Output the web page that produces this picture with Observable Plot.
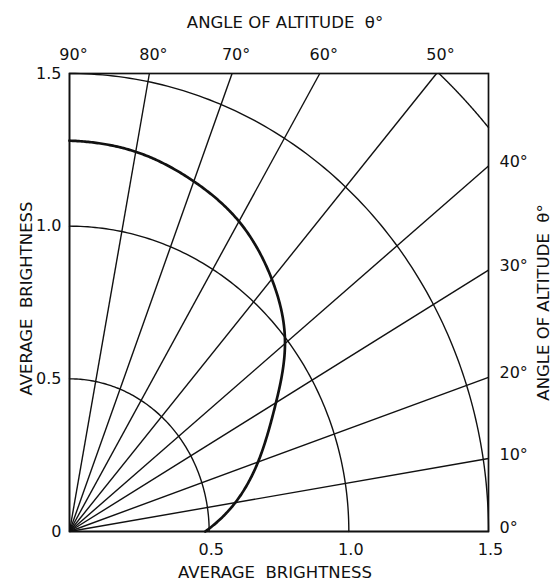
<!DOCTYPE html>
<html>
<head>
<meta charset="utf-8">
<script src="https://cdn.jsdelivr.net/npm/d3@7"></script>
<script src="https://cdn.jsdelivr.net/npm/@observablehq/plot@0.6"></script>
<style>
  html, body { margin: 0; padding: 0; background: #fff; }
  #chart svg { display: block; }
  g[aria-label="titles"] text { letter-spacing: 2.2px; }
</style>
</head>
<body>
<div id="chart"></div>
<script>
// Altitude angles (degrees) for each spoke of the polar grid
const altitudes = [0, 10, 20, 30, 40, 50, 60, 70, 80, 90];

// Where each spoke meets the frame: spokes 50°–90° end on the top edge (x value),
// spokes 0°–40° end on the right edge (y value)
const topAngles = [90, 80, 70, 60, 50];
const topEdgeX = [0, 0.286, 0.582, 0.896, 1.314];
const rightAngles = [40, 30, 20, 10, 0];
const rightEdgeY = [1.197, 0.856, 0.505, 0.239, 0];

// Average brightness at each altitude (radius of the heavy curve)
const brightness = [0.486, 0.601, 0.712, 0.851, 0.987, 1.099, 1.183, 1.23, 1.266, 1.28];

// Concentric brightness rings and tick labels
const rings = [0.5, 1.0, 1.5, 2.0];
const yTicks = [0, 0.5, 1.0, 1.5];
const yTickLabels = ["0", "0.5", "1.0", "1.5"];
const xTicks = [0.5, 1.0, 1.5];
const xTickLabels = ["0.5", "1.0", "1.5"];

const LIMIT = 1.5;

// Spoke end points on the frame
const spokes = altitudes.map(a => {
  const ti = topAngles.indexOf(a);
  if (ti >= 0) return {a, x: topEdgeX[ti], y: LIMIT};
  const ri = rightAngles.indexOf(a);
  return {a, x: LIMIT, y: rightEdgeY[ri]};
});

// Natural cubic spline through (xs, ys), returned as a function
function naturalSpline(xs, ys) {
  const n = xs.length - 1;
  const h = d3.range(n).map(i => xs[i + 1] - xs[i]);
  const alpha = [0];
  for (let i = 1; i < n; i++) {
    alpha.push(3 / h[i] * (ys[i + 1] - ys[i]) - 3 / h[i - 1] * (ys[i] - ys[i - 1]));
  }
  const l = [1], mu = [0], z = [0];
  for (let i = 1; i < n; i++) {
    l[i] = 2 * (xs[i + 1] - xs[i - 1]) - h[i - 1] * mu[i - 1];
    mu[i] = h[i] / l[i];
    z[i] = (alpha[i] - h[i - 1] * z[i - 1]) / l[i];
  }
  const c = new Array(n + 1).fill(0), b = [], d = [];
  for (let j = n - 1; j >= 0; j--) {
    c[j] = z[j] - mu[j] * c[j + 1];
    b[j] = (ys[j + 1] - ys[j]) / h[j] - h[j] * (c[j + 1] + 2 * c[j]) / 3;
    d[j] = (c[j + 1] - c[j]) / (3 * h[j]);
  }
  return t => {
    const j = Math.min(n - 1, Math.max(0, d3.bisectRight(xs, t) - 1));
    const dt = t - xs[j];
    return ys[j] + b[j] * dt + c[j] * dt * dt + d[j] * dt * dt * dt;
  };
}

// Heavy curve: brightness along each spoke direction, smoothed in polar form
const spokeDir = spokes.map(s => Math.atan2(s.y, s.x));
const rOf = naturalSpline(spokeDir, brightness);
const curvePts = d3.range(0, 361).map(k => {
  const phi = spokeDir[0] + (spokeDir[spokeDir.length - 1] - spokeDir[0]) * k / 360;
  const r = rOf(phi);
  return {x: r * Math.cos(phi), y: r * Math.sin(phi)};
});

// Ring arcs, kept inside the square frame
const arcPts = [];
for (const r of rings) {
  let lo = 0, hi = Math.PI / 2;
  if (r > LIMIT) { lo = Math.acos(LIMIT / r); hi = Math.asin(LIMIT / r); }
  const n = 120;
  for (let k = 0; k <= n; k++) {
    const t = lo + (hi - lo) * k / n;
    arcPts.push({r, x: r * Math.cos(t), y: r * Math.sin(t)});
  }
}

const topLabels = topAngles.map((a, i) => ({label: a + "°", x: topEdgeX[i]}));
const rightLabels = rightAngles.map((a, i) => ({label: a + "°", y: rightEdgeY[i]}));

const ink = "#111";
const font = "'DejaVu Sans', sans-serif";

const chart = Plot.plot({
  width: 553,
  height: 586,
  marginLeft: 69,
  marginRight: 65,
  marginTop: 73,
  marginBottom: 55,
  x: {domain: [0, 1.5], axis: null},
  y: {domain: [0, 1.5], axis: null},
  style: {fontFamily: font, fontSize: "16px", color: ink, background: "#fff"},
  marks: [
    Plot.line(arcPts, {x: "x", y: "y", z: "r", stroke: ink, strokeWidth: 1.4}),
    Plot.link(spokes, {x1: d => 0, y1: d => 0, x2: "x", y2: "y", stroke: ink, strokeWidth: 1.4}),
    Plot.line(curvePts, {x: "x", y: "y", stroke: ink, strokeWidth: 2.7}),
    Plot.frame({stroke: ink, strokeWidth: 1.7}),
    // left scale
    Plot.text(yTicks, {x: d => 0, y: d => d, text: (d, i) => yTickLabels[i], textAnchor: "end", dx: -8, fill: ink, fontSize: 16, ariaLabel: "ticks"}),
    // bottom scale
    Plot.text(xTicks, {x: d => d, y: d => 0, text: (d, i) => xTickLabels[i], dy: 18, dx: 2, fill: ink, fontSize: 16, ariaLabel: "ticks"}),
    // top altitude labels
    Plot.text(topLabels, {x: "x", y: d => LIMIT, text: "label", dy: -19, dx: 4, fill: ink, fontSize: 16, ariaLabel: "ticks"}),
    // right altitude labels
    Plot.text(rightLabels, {x: d => LIMIT, y: "y", text: "label", textAnchor: "start", dx: 11, dy: -4, fill: ink, fontSize: 16, ariaLabel: "ticks"}),
    // axis titles
    Plot.text(["ANGLE OF ALTITUDE  θ°"], {frameAnchor: "top", textAnchor: "middle", dy: -57, dx: 6, fill: ink, fontSize: 16.5, ariaLabel: "titles"}),
    Plot.text(["AVERAGE  BRIGHTNESS"], {frameAnchor: "bottom", textAnchor: "middle", dy: 46, dx: -4, fill: ink, fontSize: 16.5, ariaLabel: "titles"}),
    Plot.text(["AVERAGE  BRIGHTNESS"], {frameAnchor: "left", textAnchor: "middle", rotate: -90, dx: -43, dy: -4, fill: ink, fontSize: 16.5, ariaLabel: "titles"}),
    Plot.text(["ANGLE OF ALTITUDE  θ°"], {frameAnchor: "right", textAnchor: "middle", rotate: -90, dx: 55, dy: 0, fill: ink, fontSize: 16.5, ariaLabel: "titles"})
  ]
});

document.getElementById("chart").appendChild(chart);

// Narrow the numeric labels to a condensed lettering width
chart.querySelectorAll('g[aria-label="ticks"] text').forEach(t => {
  const w = t.getComputedTextLength();
  t.setAttribute("textLength", (w * 0.78).toFixed(1));
  t.setAttribute("lengthAdjust", "spacingAndGlyphs");
});
</script>
</body>
</html>
